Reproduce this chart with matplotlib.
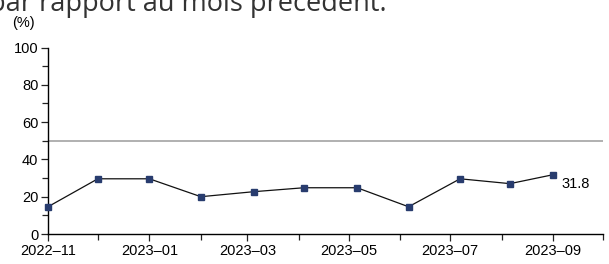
import matplotlib
matplotlib.use("Agg")
import matplotlib.pyplot as plt
import matplotlib.dates as mdates
import numpy as np
import datetime as dt

# dates des observations et valeurs (%)
dates = ["2022-11-01", "2022-12-01", "2023-01-01", "2023-02-01", "2023-03-05",
         "2023-04-04", "2023-05-06", "2023-06-06", "2023-07-07", "2023-08-06",
         "2023-09-01"]
valeurs = [14.6, 29.6, 29.6, 20.0, 22.7, 24.8, 24.8, 14.6, 29.6, 27.0, 31.8]
seuil = 50
dernier_label = "31.8"

x = [dt.datetime.strptime(d, "%Y-%m-%d") for d in dates]

plt.rcParams['font.family'] = ['Liberation Sans', 'DejaVu Sans']

fig = plt.figure(figsize=(6.09, 2.64), dpi=100)
ax = fig.add_axes([48 / 609, 30 / 264, 555 / 609, 186.5 / 264])

ax.axhline(seuil, color='#aaaaaa', lw=1.3, zorder=1)
ax.plot(x, valeurs, color='#111111', lw=0.9, marker='s', markersize=5,
        markerfacecolor='#283c6e', markeredgecolor='#283c6e', zorder=3,
        clip_on=False)
ax.annotate(dernier_label, (x[-1], valeurs[-1]), xytext=(6, -7),
            textcoords='offset points', fontsize=10.5, va='center', ha='left')

ax.set_ylim(0, 100)
ax.set_xlim(dt.datetime(2022, 11, 1), dt.datetime(2023, 10, 1))
ax.set_yticks(np.arange(0, 101, 20))
ax.set_yticks(np.arange(10, 100, 20), minor=True)

ax.xaxis.set_major_locator(mdates.MonthLocator(bymonth=[1, 3, 5, 7, 9, 11]))
ax.xaxis.set_minor_locator(mdates.MonthLocator())
ax.xaxis.set_major_formatter(mdates.DateFormatter('%Y\u2013%m'))

for s in ['top', 'right']:
    ax.spines[s].set_visible(False)
for s in ['left', 'bottom']:
    ax.spines[s].set_linewidth(1.0)

ax.tick_params(axis='both', which='both', direction='out', width=0.9,
               labelsize=10.5, color='#222222')
ax.tick_params(axis='both', which='major', length=5, pad=2)
ax.tick_params(axis='both', which='minor', length=4)

fig.text(12 / 609, 1 - 23 / 264, '(%)', fontsize=10.5, va='center', ha='left')
fig.text(387 / 609, 1 - 11 / 264, 'par rapport au mois précédent.',
         fontsize=19.5, ha='right', va='baseline', color='#333333',
         family=['Open Sans', 'DejaVu Sans'])

fig.savefig('out.png', dpi=100)
